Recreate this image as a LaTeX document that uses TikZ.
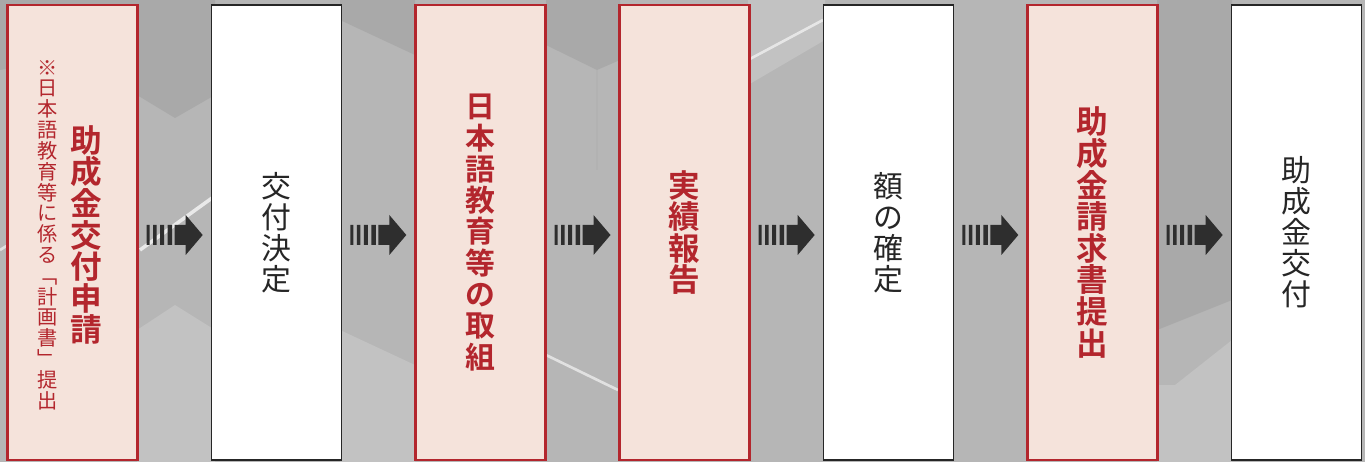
\documentclass[tikz,border=0pt]{standalone}
\usepackage{fontspec}
\newfontfamily\jpfont{Noto Sans CJK JP}[BoldFont={Noto Sans CJK JP Bold}]
\usepackage{xcolor}
\usetikzlibrary{calc,positioning}

\definecolor{bggray}{HTML}{B6B6B6}
\definecolor{facetdark}{HTML}{A9A9A9}
\definecolor{facetlight}{HTML}{C2C2C2}
\definecolor{boxred}{HTML}{B3262D}
\definecolor{boxpink}{HTML}{F5E3DB}
\definecolor{arrowgray}{HTML}{2E2E2E}

\tikzset{
  stepred/.style={draw=boxred, line width=1.2pt, fill=boxpink, minimum width=2.6cm,
    minimum height=9.1cm, inner sep=0pt, text=boxred, align=center,
    font=\jpfont\bfseries\fontsize{18pt}{18pt}\selectfont},
  stepwhite/.style={draw=black!85, line width=0.8pt, fill=white, minimum width=2.6cm,
    minimum height=9.1cm, inner sep=0pt, text=black!85, align=center,
    font=\jpfont\fontsize{17pt}{17.6pt}\selectfont},
  redtitle/.style={inner sep=0pt, text=boxred, align=center,
    font=\jpfont\bfseries\fontsize{18pt}{18pt}\selectfont},
  notetext/.style={inner sep=0pt, text=boxred, align=center,
    font=\jpfont\fontsize{11.5pt}{11.85pt}\selectfont},
  speedarrow/.pic={
    \fill[arrowgray] (-28,-10) rectangle (-25,10)
      (-21.5,-10) rectangle (-18,10)
      (-14.5,-10) rectangle (-10.5,10)
      (-7,-10) rectangle (-2.5,10);
    \fill[arrowgray] (0,-10) -- (11,-10) -- (11,-20) -- (28,0) -- (11,20) -- (11,10) -- (0,10) -- cycle;
  }
}

\begin{document}
\begin{tikzpicture}[x=0.02cm,y=-0.02cm]
  % background with faint facets
  \fill[bggray] (0,0) rectangle (1365,462);
  \useasboundingbox (0,0) rectangle (1365,462);
  \fill[facetdark] (0,0) -- (215,0) -- (215,95) -- (175,118) -- (137,95) -- (60,60) -- (0,70) -- cycle;
  \fill[facetlight] (137,330) -- (175,305) -- (215,330) -- (215,462) -- (137,462) -- cycle;
  \fill[facetdark] (340,0) -- (415,0) -- (415,55) -- (340,20) -- cycle;
  \fill[facetlight] (340,330) -- (415,365) -- (415,462) -- (340,462) -- cycle;
  \fill[facetdark] (546,0) -- (620,0) -- (620,60) -- (597,70) -- (546,45) -- cycle;
  \fill[facetlight] (748,0) -- (825,0) -- (825,40) -- (748,85) -- cycle;
  \fill[facetdark] (1157,0) -- (1232,0) -- (1232,300) -- (1157,330) -- cycle;
  \fill[facetlight] (1157,385) -- (1175,385) -- (1232,340) -- (1232,462) -- (1157,462) -- cycle;
  \draw[white, line width=2pt, opacity=0.7] (140,250) -- (212,198);
  \draw[white, line width=1.5pt, opacity=0.6] (0,250) -- (8,245);
  \draw[white, line width=1.5pt, opacity=0.6] (546,355) -- (618,390);
  \draw[white, line width=1.5pt, opacity=0.6] (748,60) -- (823,20);
  \draw[black!30, line width=0.8pt] (597,70) -- (597,170);

  % steps
  \node[stepred] (apply) at (72.5,232.5) {};
  \node[redtitle] (applytitle) at ($(apply.center)+(14,2.5)$) {助\\成\\金\\交\\付\\申\\請};
  \node[notetext] (applynote) at ($(apply.center)+(-25,2.5)$)
    {※\\日\\本\\語\\教\\育\\等\\に\\係\\る\\﹁\\計\\画\\書\\﹂\\提\\出};
  \node[stepwhite] (decide) at (276.5,232.5) {交\\付\\決\\定};
  \node[stepred, font=\jpfont\bfseries\fontsize{17pt}{17.8pt}\selectfont] (implement) at (480.5,232.5)
    {日\\本\\語\\教\\育\\等\\の\\取\\組};
  \node[stepred] (report) at (684.5,232.5) {実\\績\\報\\告};
  \node[stepwhite] (confirm) at (888.5,232.5) {額\\の\\確\\定};
  \node[stepred] (claim) at (1092.5,232.5) {助\\成\\金\\請\\求\\書\\提\\出};
  \node[stepwhite] (grant) at (1296.5,232.5) {助\\成\\金\\交\\付};

  % arrows between the steps
  \pic at ($(apply.east)!.5!(decide.west)+(0,2.5)$) {speedarrow};
  \pic at ($(decide.east)!.5!(implement.west)+(0,2.5)$) {speedarrow};
  \pic at ($(implement.east)!.5!(report.west)+(0,2.5)$) {speedarrow};
  \pic at ($(report.east)!.5!(confirm.west)+(0,2.5)$) {speedarrow};
  \pic at ($(confirm.east)!.5!(claim.west)+(0,2.5)$) {speedarrow};
  \pic at ($(claim.east)!.5!(grant.west)+(0,2.5)$) {speedarrow};
\end{tikzpicture}
\end{document}
